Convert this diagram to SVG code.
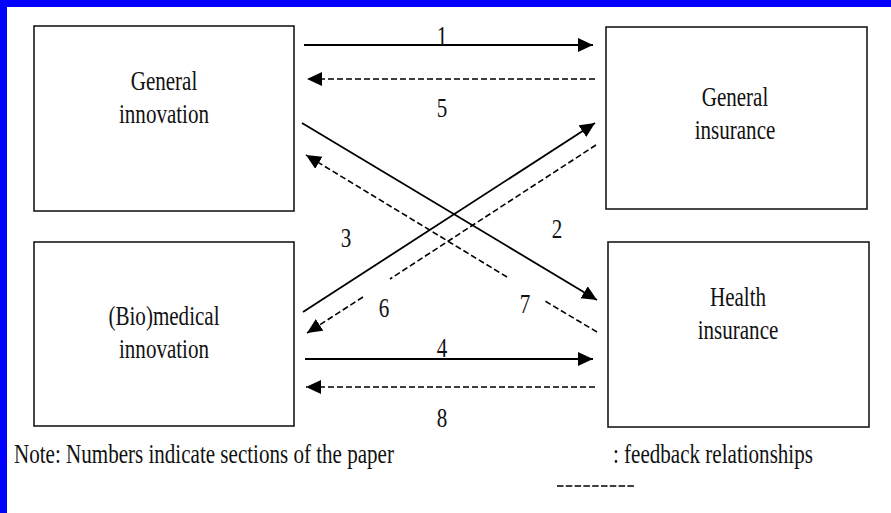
<svg xmlns="http://www.w3.org/2000/svg" width="891" height="513" viewBox="0 0 891 513">
  <style>
    .box { fill: #ffffff; stroke: #1a1a1a; stroke-width: 1.6; }
    text { font-family: "Liberation Serif", "DejaVu Serif", "Noto Serif", serif; font-size: 27px; fill: #111111; }
    .t { text-anchor: middle; }
    .ts { text-anchor: start; }
    .solid { stroke: #000000; stroke-width: 1.8; fill: none; }
    .dash { stroke: #000000; stroke-width: 1.6; fill: none; stroke-dasharray: 6 3; }
  </style>
  <defs>
    <marker id="head" markerUnits="userSpaceOnUse" markerWidth="16" markerHeight="15" refX="15" refY="7" orient="auto">
      <path d="M0,0 L15,7 L0,14 Z" fill="#000000"/>
    </marker>
  </defs>

  <rect x="0" y="0" width="891" height="513" fill="#ffffff"/>
  <rect x="0" y="0" width="891" height="7" fill="#0000ff"/>
  <rect x="0" y="0" width="7" height="513" fill="#0000ff"/>

  <g id="general-innovation">
    <rect class="box" x="34" y="26" width="260" height="185"/>
    <text class="t" font-family="Liberation Serif, serif" transform="translate(164 90) scale(0.78 1)">General</text>
    <text class="t" font-family="Liberation Serif, serif" transform="translate(164 123) scale(0.78 1)">innovation</text>
  </g>
  <g id="general-insurance">
    <rect class="box" x="606" y="27" width="261" height="182"/>
    <text class="t" font-family="Liberation Serif, serif" transform="translate(735 106) scale(0.78 1)">General</text>
    <text class="t" font-family="Liberation Serif, serif" transform="translate(735 139) scale(0.78 1)">insurance</text>
  </g>
  <g id="biomedical-innovation">
    <rect class="box" x="34" y="242" width="260" height="184"/>
    <text class="t" font-family="Liberation Serif, serif" transform="translate(164 325) scale(0.78 1)">(Bio)medical</text>
    <text class="t" font-family="Liberation Serif, serif" transform="translate(164 358) scale(0.78 1)">innovation</text>
  </g>
  <g id="health-insurance">
    <rect class="box" x="608" y="242" width="261" height="185"/>
    <text class="t" font-family="Liberation Serif, serif" transform="translate(738 306) scale(0.78 1)">Health</text>
    <text class="t" font-family="Liberation Serif, serif" transform="translate(738 339) scale(0.78 1)">insurance</text>
  </g>

  <g id="connectors">
    <line class="solid" x1="304" y1="45" x2="593" y2="45" marker-end="url(#head)"/>
    <line class="dash" x1="595" y1="79" x2="307" y2="79" marker-end="url(#head)"/>
    <line class="solid" x1="302" y1="123" x2="597" y2="300" marker-end="url(#head)"/>
    <line class="solid" x1="303" y1="312" x2="595" y2="123" marker-end="url(#head)"/>
    <line class="dash" x1="597" y1="332" x2="545" y2="301"/>
    <line class="dash" x1="507" y1="277" x2="306" y2="155" marker-end="url(#head)"/>
    <line class="dash" x1="596" y1="145" x2="390" y2="279"/>
    <line class="dash" x1="363" y1="297" x2="307" y2="333" marker-end="url(#head)"/>
    <line class="solid" x1="305" y1="359" x2="593" y2="359" marker-end="url(#head)"/>
    <line class="dash" x1="595" y1="387" x2="306" y2="387" marker-end="url(#head)"/>
  </g>

  <g id="labels">
    <text class="t" transform="translate(442 45) scale(0.78 1)">1</text>
    <text class="t" transform="translate(442 117) scale(0.78 1)">5</text>
    <text class="t" transform="translate(557 238) scale(0.78 1)">2</text>
    <text class="t" transform="translate(346 247) scale(0.78 1)">3</text>
    <text class="t" transform="translate(384 317) scale(0.78 1)">6</text>
    <text class="t" transform="translate(525 313) scale(0.78 1)">7</text>
    <text class="t" transform="translate(442 357) scale(0.78 1)">4</text>
    <text class="t" transform="translate(442 427) scale(0.78 1)">8</text>
  </g>

  <g id="note">
    <text class="ts" transform="translate(14 463) scale(0.78 1)">Note: Numbers indicate sections of the paper</text>
    <text class="ts" transform="translate(613 463) scale(0.78 1)">: feedback relationships</text>
    <line x1="557" y1="486" x2="635" y2="486" stroke="#000000" stroke-width="1.6" stroke-dasharray="6.5 2.3"/>
  </g>
</svg>
